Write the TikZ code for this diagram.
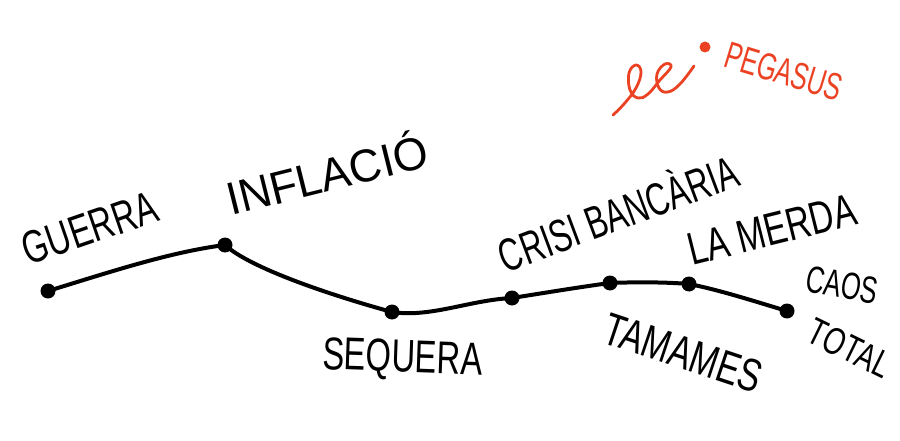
\documentclass[tikz,border=0pt]{standalone}
\usepackage{fontspec}
\setmainfont{Liberation Sans}
\usepackage{graphicx}
\definecolor{pegred}{RGB}{236,66,36}
\tikzset{
  dot/.style={circle,fill=black,inner sep=0pt,minimum size=15pt},
  reddot/.style={circle,fill=pegred,inner sep=0pt,minimum size=11pt},
  link/.style={line width=4pt,line cap=round,black},
  lbl/.style={inner sep=0pt,anchor=base,font=\fontsize{46}{46}\selectfont},
  slbl/.style={inner sep=0pt,anchor=base,font=\fontsize{38}{38}\selectfont}
}
\begin{document}
\begin{tikzpicture}[x=1pt,y=-1pt]
\useasboundingbox (0,0) rectangle (900,441);
% dots
\node[dot] (g) at (48,291) {};
\node[dot] (i) at (225,245) {};
\node[dot] (s) at (392,312) {};
\node[dot] (c) at (512,298) {};
\node[dot] (t) at (610,283) {};
\node[dot] (m) at (689,284) {};
\node[dot] (o) at (787,311) {};
% connectors
\draw[link] (g.center) .. controls (110,272) and (170,252) .. (i.center);
\draw[link] (i.center) .. controls (250,268) and (330,295) .. (s.center);
\draw[link] (s.center) .. controls (430,318) and (470,300) .. (c.center);
\draw[link] (c.center) .. controls (550,292) and (580,287) .. (t.center);
\draw[link] (t.center) .. controls (635,282) and (665,282) .. (m.center);
\draw[link] (m.center) .. controls (720,290) and (760,303) .. (o.center);
% labels
\node[lbl,rotate=19] (lg) at (95,243) {\scalebox{0.71}[1]{GUERRA}};
\node[lbl,rotate=14] (li) at (331,191) {\scalebox{0.97}[1]{INFLACIÓ}};
\node[lbl,rotate=20.5] (lc) at (624,229) {\scalebox{0.68}[1]{CRISI BANCÀRIA}};
\node[lbl,rotate=14] (lm) at (776,245) {\scalebox{0.73}[1]{LA MERDA}};
\node[slbl,rotate=-10] (lo) at (840,298) {\scalebox{0.67}[1]{CAOS}};
\node[slbl,rotate=-26] (lt) at (844,360) {\scalebox{0.73}[1]{TOTAL}};
\node[lbl,rotate=-2] (ls) at (402,372) {\scalebox{0.71}[1]{SEQUERA}};
\node[lbl,rotate=-18.5] (lta) at (678,368) {\scalebox{0.73}[1]{TAMAMES}};
% pegasus
\node[reddot] (pd) at (705,47) {};
\node[slbl,rotate=-17,text=pegred] (lp) at (780,84) {\scalebox{0.66}[1]{PEGASUS}};
\draw[pegred,line width=2.8pt,line cap=round,line join=round]
  plot[smooth,tension=0.7] coordinates {(613,115) (624,104) (636,88) (641,72) (636,65) (629,73) (630,90) (638,98) (648,94) (660,80) (671,67) (665,64) (657,74) (659,88) (668,92) (680,84) (694,66)};
\end{tikzpicture}
\end{document}
